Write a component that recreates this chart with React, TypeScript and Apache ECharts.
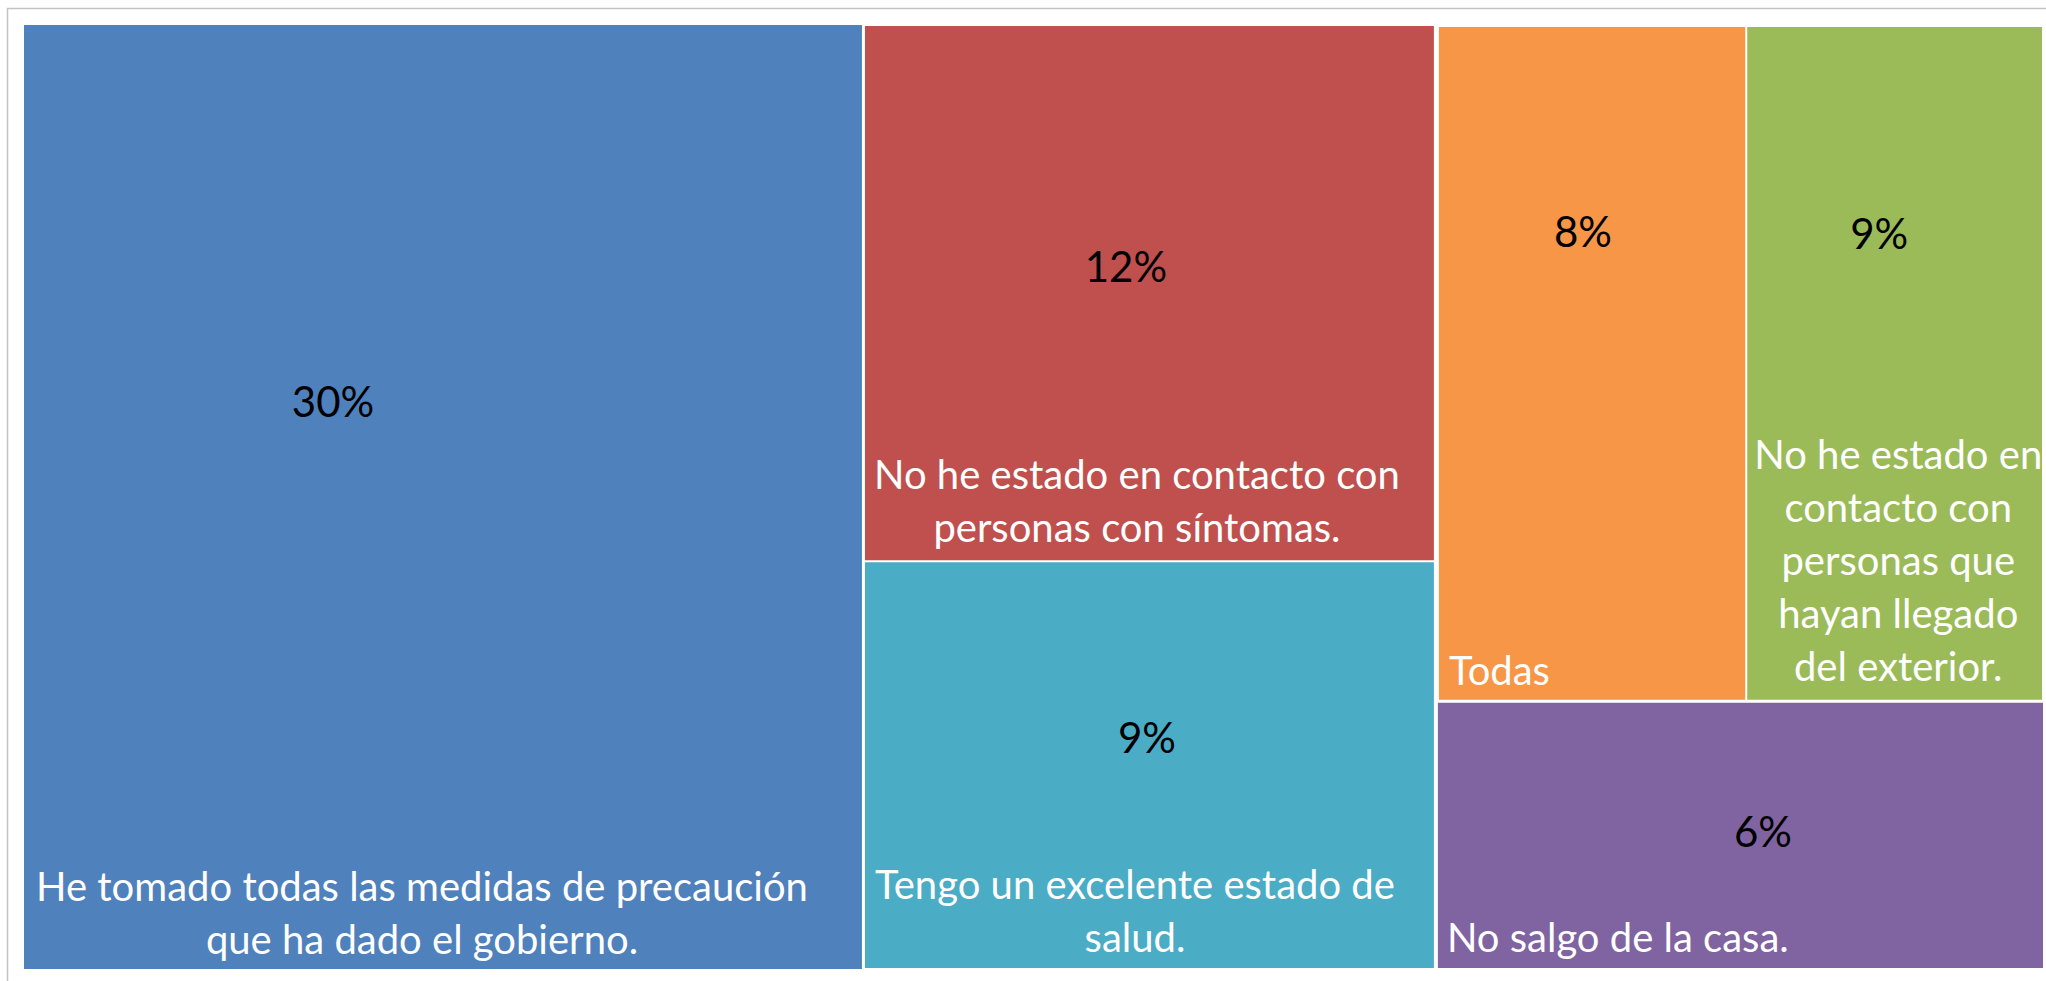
import React, { useEffect, useRef } from "react";
import * as echarts from "echarts";

// ---- data ----
const categories = [
  "He tomado todas las medidas de precaución\nque ha dado el gobierno.",
  "No he estado en contacto con\npersonas con síntomas.",
  "Tengo un excelente estado de\nsalud.",
  "Todas",
  "No he estado en\ncontacto con\npersonas que\nhayan llegado\ndel exterior.",
  "No salgo de la casa.",
];
// relative tile sizes (areas of the tiles)
const tileSizes = [30.2, 11.7, 8.9, 8.0, 7.7, 6.2];
// value labels shown on the tiles
const percentLabels = ["30%", "12%", "9%", "8%", "9%", "6%"];

// ---- styles ----
const colors = ["#4F81BD", "#C0504D", "#4BACC6", "#F79646", "#9BBB59", "#8064A2"];
const CLEAR = "rgba(0,0,0,0)";
// percent label anchor (px from tile top-left)
const pctPos: [number, number][] = [
  [310, 377],
  [263, 242],
  [284, 176],
  [147, 207],
  [133, 209],
  [327, 129],
];
// category label: x anchor, alignment, vertical offset from tile bottom
const namePos: { x: number; align: string; dy: number }[] = [
  { x: 398, align: "center", dy: -4 },
  { x: 272, align: "center", dy: -7 },
  { x: 270, align: "center", dy: -5 },
  { x: 10, align: "left", dy: -3 },
  { x: 151, align: "center", dy: -7 },
  { x: 9, align: "left", dy: -5 },
];

const FONT = "Lato, 'Open Sans', sans-serif";

function leaf(i: number, forPct: boolean) {
  if (forPct) {
    return {
      name: "p" + i,
      value: tileSizes[i],
      itemStyle: { color: CLEAR, borderColor: CLEAR },
      label: {
        formatter: percentLabels[i],
        position: pctPos[i],
        align: "center",
        verticalAlign: "middle",
      },
    };
  }
  return {
    name: categories[i],
    value: tileSizes[i],
    itemStyle: { color: colors[i] },
    label: {
      position: [namePos[i].x, "100%"],
      offset: [0, namePos[i].dy],
      align: namePos[i].align,
      verticalAlign: "bottom",
    },
  };
}

function group(name: string, children: any[], forPct: boolean) {
  return forPct
    ? { name, children, itemStyle: { color: CLEAR, borderColor: CLEAR } }
    : { name, children };
}

function buildTree(forPct: boolean) {
  return [
    leaf(0, forPct),
    group("g1", [leaf(1, forPct), leaf(2, forPct)], forPct),
    group(
      "g2",
      [group("g3", [leaf(3, forPct), leaf(4, forPct)], forPct), leaf(5, forPct)],
      forPct
    ),
  ];
}

export default function App() {
  const ref = useRef<HTMLDivElement>(null);
  useEffect(() => {
    document.body.style.margin = "0";
    document.body.style.overflow = "hidden";
    if (!ref.current) return;
    const chart = echarts.init(ref.current, null, { renderer: "svg" });
    const common = {
      type: "treemap",
      left: 23,
      top: 24,
      width: 2022,
      height: 946,
      roam: false,
      nodeClick: false,
      squareRatio: 1.19,
      sort: false,
      visibleMin: 0,
      breadcrumb: { show: false },
      emphasis: { disabled: true },
      upperLabel: { show: false },
    };
    chart.setOption({
      animation: false,
      backgroundColor: "#ffffff",
      tooltip: { show: false },
      graphic: [
        {
          type: "rect",
          shape: { x: 7.5, y: 8.5, width: 2100, height: 1100 },
          style: { fill: "none", stroke: "#c3c3c3", lineWidth: 1.5 },
          silent: true,
        },
      ],
      series: [
        {
          ...common,
          itemStyle: { borderWidth: 0, gapWidth: 0, borderColor: "#ffffff" },
          levels: [
            { itemStyle: { borderWidth: 0, gapWidth: 0 } },
            { itemStyle: { borderWidth: 1, gapWidth: 0, borderColor: "#ffffff" } },
            { itemStyle: { borderWidth: 1, gapWidth: 0, borderColor: "#ffffff" } },
            { itemStyle: { borderWidth: 1, gapWidth: 0, borderColor: "#ffffff" } },
          ],
          label: {
            show: true,
            color: "#ffffff",
            fontFamily: FONT,
            fontSize: 40,
            lineHeight: 53,
            padding: 0,
            overflow: "none",
            textBorderWidth: 0,
          },
          data: buildTree(false),
        },
        {
          ...common,
          silent: true,
          color: [CLEAR],
          itemStyle: {
            color: CLEAR,
            borderColor: CLEAR,
            borderWidth: 0,
            gapWidth: 0,
          },
          label: {
            show: true,
            color: "#000000",
            fontFamily: FONT,
            fontSize: 42,
            padding: 0,
            overflow: "none",
            textBorderWidth: 0,
          },
          data: buildTree(true),
        },
      ],
    });
    return () => chart.dispose();
  }, []);
  return <div ref={ref} style={{ width: 2046, height: 981, background: "#fff" }} />;
}
